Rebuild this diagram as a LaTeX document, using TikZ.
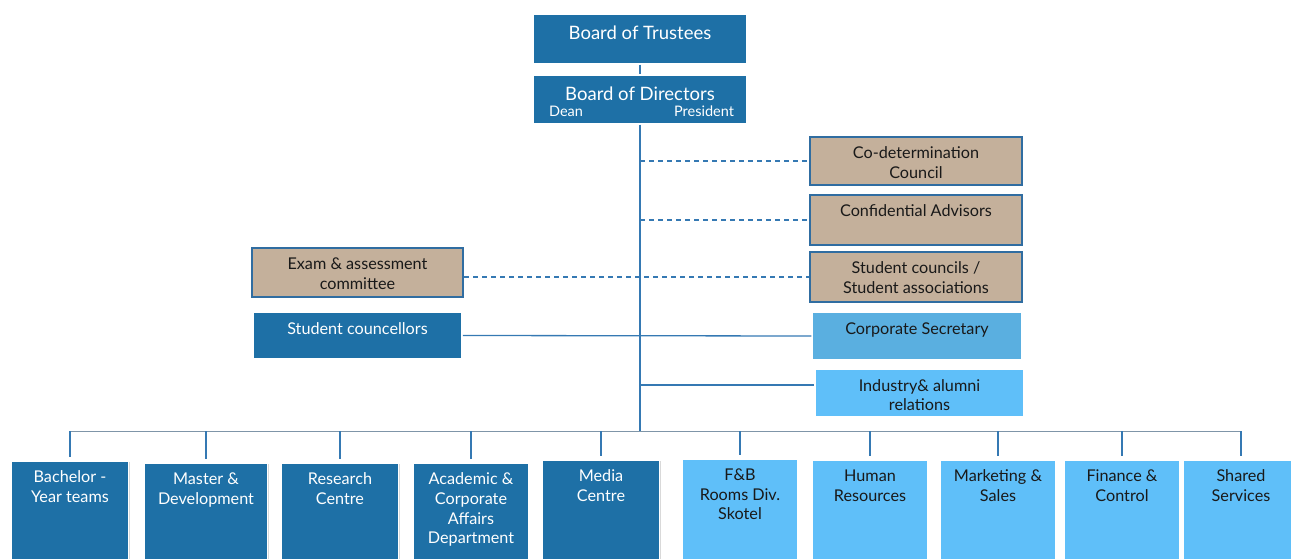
\documentclass[tikz,border=0pt]{standalone}
\usepackage{fontspec}
\setmainfont{Lato}
\usetikzlibrary{positioning, shadows}
\definecolor{darkblue}{HTML}{1E70A6}
\definecolor{lightblue}{HTML}{5FBFF9}
\definecolor{midblue}{HTML}{5AAFE0}
\definecolor{tan}{HTML}{C4B09B}
\definecolor{linkblue}{HTML}{3579B3}
\definecolor{buscol}{HTML}{7F95A8}
\tikzstyle{block}=[rectangle, draw=white, line width=1.5pt, inner sep=0pt,
  drop shadow={shadow xshift=1.2pt, shadow yshift=-1.2pt, opacity=.3}]
\tikzstyle{dark}=[block, fill=darkblue]
\tikzstyle{light}=[block, fill=lightblue]
\tikzstyle{council}=[block, draw=linkblue!90!black, line width=2pt, fill=tan]
\tikzstyle{toptext}=[anchor=north, yshift=-7.5pt, align=center, font=\fontsize{16.2}{19.6}\selectfont, text=black!90]
\tikzstyle{whitetext}=[toptext, text=white]
\tikzstyle{bigtext}=[whitetext, yshift=-2pt, font=\fontsize{18.5}{22}\selectfont]
\tikzstyle{conn}=[draw=linkblue, line width=1.3pt]
\tikzstyle{dashconn}=[conn, dashed, dash pattern=on 5pt off 4pt]

\begin{document}
\begin{tikzpicture}[x=1pt, y=-1pt]
  \useasboundingbox (0,0) rectangle (1291,559);
  \clip (0,0) rectangle (1291,559);
  % top
  \node[dark, minimum width=214pt, minimum height=50pt,
    label={[bigtext]north:Board of Trustees}] (trustees) at (640,39) {};
  \node[dark, minimum width=214pt, minimum height=49pt,
    label={[bigtext]north:Board of Directors}] (directors) at (640,99.5) {};
  \node[text=white, font=\fontsize{14.5}{16}\selectfont] (dean) at (566,111) {Dean};
  \node[text=white, font=\fontsize{14.5}{16}\selectfont] (president) at (704,111) {President};
  % advisory bodies
  \node[council, minimum width=212pt, minimum height=48pt,
    label={[toptext]north:Co-determination\\Council}] (codet) at (916,161) {};
  \node[council, minimum width=212pt, minimum height=50pt,
    label={[toptext]north:Confidential Advisors}] (advisors) at (916,220) {};
  \node[council, minimum width=212pt, minimum height=50pt,
    label={[toptext]north:Student councils /\\Student associations}] (stcouncils) at (916,277) {};
  \node[council, minimum width=211pt, minimum height=49pt,
    label={[toptext]north:Exam \& assessment\\committee}] (exam) at (357.5,272.5) {};
  % staff
  \node[dark, minimum width=209pt, minimum height=47pt,
    label={[whitetext]north:Student councellors}] (councellors) at (357.5,335.5) {};
  \node[block, fill=midblue, minimum width=210pt, minimum height=48pt,
    label={[toptext]north:Corporate Secretary}] (corpsec) at (917,336) {};
  \node[light, minimum width=209pt, minimum height=48pt,
    label={[toptext]north:Industry\& alumni\\relations}] (industry) at (919.5,393) {};
  % departments
  \node[dark, anchor=north, minimum width=117pt, minimum height=120pt,
    label={[whitetext]north:Bachelor -\\Year teams}] (bachelor) at (70,460) {};
  \node[dark, anchor=north, minimum width=123pt, minimum height=120pt,
    label={[whitetext]north:Master \&\\Development}] (master) at (206,462) {};
  \node[dark, anchor=north, minimum width=117pt, minimum height=120pt,
    label={[whitetext]north:Research\\Centre}] (research) at (340,462) {};
  \node[dark, anchor=north, minimum width=116pt, minimum height=120pt,
    label={[whitetext]north:Academic \&\\Corporate\\Affairs\\Department}] (academic) at (471,462) {};
  \node[dark, anchor=north, minimum width=117pt, minimum height=120pt,
    label={[whitetext]north:Media\\Centre}] (media) at (601,459) {};
  \node[light, anchor=north, minimum width=116pt, minimum height=120pt,
    label={[toptext]north:F\&B\\Rooms Div.\\Skotel}] (fb) at (740,458) {};
  \node[light, anchor=north, minimum width=116pt, minimum height=120pt,
    label={[toptext]north:Human\\Resources}] (hr) at (870,459) {};
  \node[light, anchor=north, minimum width=116pt, minimum height=120pt,
    label={[toptext]north:Marketing \&\\Sales}] (marketing) at (998,459) {};
  \node[light, anchor=north, minimum width=116pt, minimum height=120pt,
    label={[toptext]north:Finance \&\\Control}] (finance) at (1122,459) {};
  \node[light, anchor=north, minimum width=116pt, minimum height=120pt,
    label={[toptext]north:Shared\\Services}] (shared) at (1241,459) {};
  \coordinate (hub) at (640,431);
  % lines
  \draw[conn] (trustees) -- (directors);
  \draw[conn] (directors.south) -- (hub);
  \draw[dashconn] (directors.south |- codet) -- (codet.west);
  \draw[dashconn] (directors.south |- advisors) -- (advisors.west);
  \draw[dashconn] (exam.east |- stcouncils) -- (stcouncils.west);
  \draw[conn] (councellors.east) -- (corpsec.west);
  \draw[conn] ([yshift=8pt]industry.west -| hub) -- ([yshift=8pt]industry.west);
  \draw[draw=buscol, line width=1pt] (bachelor.north |- hub) -- (shared.north |- hub);
  \foreach \dept in {bachelor, master, research, academic, media, fb, hr, marketing, finance, shared}
    \draw[conn] (\dept.north |- hub) -- ([yshift=3pt]\dept.north);
\end{tikzpicture}
\end{document}
